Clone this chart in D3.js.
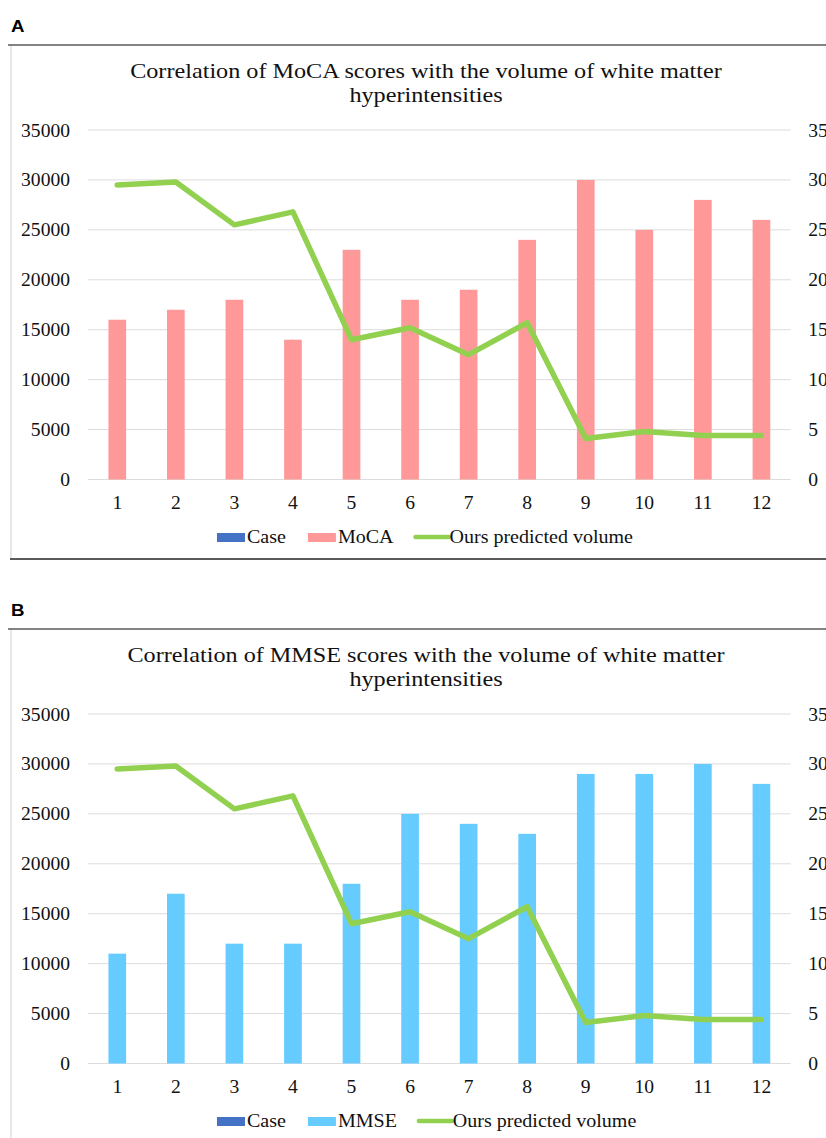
<!DOCTYPE html>
<html>
<head>
<meta charset="utf-8">
<script src="https://cdn.jsdelivr.net/npm/d3@7"></script>
<style>
  html, body { margin: 0; padding: 0; background: #fff; }
  svg { display: block; }
</style>
</head>
<body>
<svg id="chart" width="826" height="1138"></svg>
<script>
// ---- data ----
const cases = ["1","2","3","4","5","6","7","8","9","10","11","12"];
const predictedVolume = [29500, 29800, 25500, 26800, 14000, 15200, 12500, 15700, 4100, 4800, 4400, 4400];
const mocaScores = [16, 17, 18, 14, 23, 18, 19, 24, 30, 25, 28, 26];
const mmseScores = [11, 17, 12, 12, 18, 25, 24, 23, 29, 29, 30, 28];
const leftTicks = [0, 5000, 10000, 15000, 20000, 25000, 30000, 35000];
const rightTicks = [0, 5, 10, 15, 20, 25, 30, 35];
const panelLetters = ["A", "B"];
const titlesLine1 = [
  "Correlation of MoCA scores with the volume of white matter",
  "Correlation of MMSE scores with the volume of white matter"
];
const titleLine2 = "hyperintensities";
const scoreNames = ["MoCA", "MMSE"];
const scoreColors = ["#FF9999", "#66CCFF"];

const svg = d3.select("#chart");
const serif = "'Liberation Serif', 'Times New Roman', serif";
const SX = 1.1; // horizontal stretch of the reference's lettering

function stretch(sel, x, y) {
  sel.attr("x", 0).attr("y", 0).attr("transform", `translate(${x},${y}) scale(${SX},1)`);
  return sel;
}

function drawPanel(idx, dy, scores) {
  const g = svg.append("g").attr("transform", `translate(0,${dy})`);

  // panel letter
  stretch(g.append("text"), 11, 32)
    .attr("font-family", "'Liberation Sans', Arial, sans-serif")
    .attr("font-weight", "bold").attr("font-size", 17)
    .text(panelLetters[idx]);

  // frame
  g.append("line").attr("x1", 11).attr("x2", 11).attr("y1", 45).attr("y2", 558)
    .attr("stroke", "#d0d0d0").attr("stroke-width", 1);
  g.append("line").attr("x1", 8).attr("x2", 826).attr("y1", 45).attr("y2", 45)
    .attr("stroke", "#5a5a5a").attr("stroke-width", 1.5);
  if (idx === 0) {
    g.append("line").attr("x1", 10).attr("x2", 826).attr("y1", 559).attr("y2", 559)
      .attr("stroke", "#5a5a5a").attr("stroke-width", 1.8);
  }

  // title
  const tAttrs = s => s.attr("text-anchor", "middle").attr("font-family", serif)
    .attr("font-size", 22).attr("fill", "#111");
  stretch(tAttrs(g.append("text")), 426, 78).text(titlesLine1[idx]);
  stretch(tAttrs(g.append("text")), 426, 102).text(titleLine2);

  const x = d3.scaleBand().domain(cases).range([88, 790.7]).padding(0);
  const yL = d3.scaleLinear().domain([0, 35000]).range([479.5, 130]);
  const yR = d3.scaleLinear().domain([0, 35]).range([479.5, 130]);

  // gridlines
  g.append("g").selectAll("line").data(leftTicks).join("line")
    .attr("x1", 88).attr("x2", 790.7)
    .attr("y1", d => yL(d)).attr("y2", d => yL(d))
    .attr("stroke", "#dcdcdc").attr("stroke-width", 1);

  const axisFont = 17.8;

  // left axis
  const axL = g.append("g").attr("transform", "translate(88,0)")
    .call(d3.axisLeft(yL).tickValues(leftTicks).tickSize(0).tickPadding(18).tickFormat(d3.format("d")));
  axL.select(".domain").remove();
  axL.selectAll("text").attr("font-family", serif).attr("font-size", axisFont).attr("fill", "#111")
    .each(function() { stretch(d3.select(this), -18, 0).attr("dy", "0.34em"); });

  // right axis
  const axR = g.append("g").attr("transform", "translate(790.7,0)")
    .call(d3.axisRight(yR).tickValues(rightTicks).tickSize(0).tickPadding(17.5).tickFormat(d3.format("d")));
  axR.select(".domain").remove();
  axR.selectAll("text").attr("font-family", serif).attr("font-size", axisFont).attr("fill", "#111")
    .each(function() { stretch(d3.select(this), 17.5, 0).attr("dy", "0.34em"); });

  // bottom axis
  const axB = g.append("g").attr("transform", "translate(0,479.5)")
    .call(d3.axisBottom(x).tickSize(0).tickPadding(15));
  axB.select(".domain").remove();
  axB.selectAll("text").attr("font-family", serif).attr("font-size", axisFont).attr("fill", "#111")
    .each(function() { stretch(d3.select(this), 0, 29).attr("dy", null); });

  // bars
  const bw = x.step() * 0.302;
  g.append("g").selectAll("rect").data(scores).join("rect")
    .attr("x", (d, i) => x(cases[i]) + x.bandwidth() / 2 - bw / 2)
    .attr("width", bw)
    .attr("y", d => yR(d))
    .attr("height", d => yR(0) - yR(d))
    .attr("fill", scoreColors[idx]);

  // line
  const line = d3.line()
    .x((d, i) => x(cases[i]) + x.bandwidth() / 2)
    .y(d => yL(d));
  g.append("path").datum(predictedVolume)
    .attr("d", line).attr("fill", "none")
    .attr("stroke", "#92D050").attr("stroke-width", 5.5)
    .attr("stroke-linejoin", "round").attr("stroke-linecap", "round");

  // legend
  const lg = g.append("g").attr("font-family", serif).attr("font-size", 18.2).attr("fill", "#111");
  const ly = 543;
  lg.append("rect").attr("x", 217).attr("y", ly - 10).attr("width", 28).attr("height", 9).attr("fill", "#4472C4");
  const t1 = stretch(lg.append("text"), 247, ly).text("Case");
  let xx = 247 + t1.node().getComputedTextLength() * SX + 22;
  lg.append("rect").attr("x", xx).attr("y", ly - 10).attr("width", 28).attr("height", 9).attr("fill", scoreColors[idx]);
  const t2 = stretch(lg.append("text"), xx + 30, ly).text(scoreNames[idx]);
  xx = xx + 30 + t2.node().getComputedTextLength() * SX + 22;
  lg.append("line").attr("x1", xx).attr("x2", xx + 33).attr("y1", ly - 6).attr("y2", ly - 6)
    .attr("stroke", "#92D050").attr("stroke-width", 4.5).attr("stroke-linecap", "round");
  stretch(lg.append("text"), xx + 34, ly).text("Ours predicted volume");
}

drawPanel(0, 0, mocaScores);
drawPanel(1, 584, mmseScores);
</script>
</body>
</html>
